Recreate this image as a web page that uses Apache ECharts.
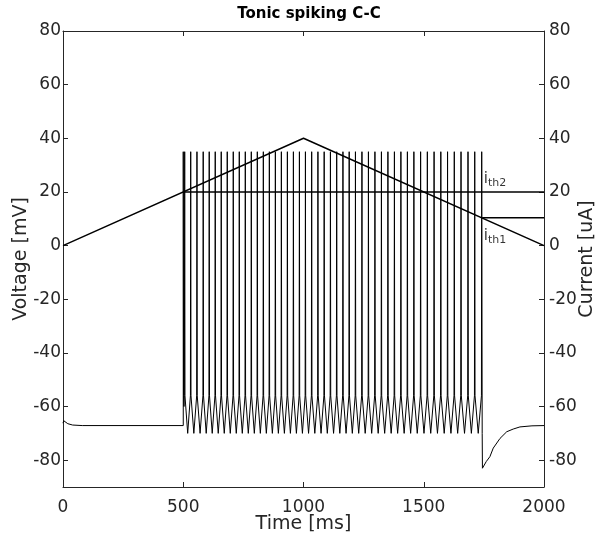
<!DOCTYPE html>
<html>
<head>
<meta charset="utf-8">
<script src="https://cdn.jsdelivr.net/npm/echarts@6/dist/echarts.min.js"></script>
<style>html,body{margin:0;padding:0;background:#fff}#c{width:599px;height:541px}</style>
</head>
<body>
<div id="c"></div>
<script>
// ---- data ----
const xTicks = [0, 500, 1000, 1500, 2000];
const yTicks = [-80, -60, -40, -20, 0, 20, 40, 60, 80];
// resting voltage before stimulus [t, mV]
const restTrace = [[0,-66.2],[3,-65.3],[8,-65.6],[20,-66.4],[40,-66.9],[80,-67.1],[500,-67.1]];
// spike times (ms)
const spikeTimes = [500,506,531,557,583,608,633,658,683,708,733,758,783,808,833,858,883,908,933,958,983,1008,
  1034,1060,1086,1112,1138,1164,1190,1216,1243,1270,1297,1324,1351,1378,1405,1432,1459,
  1487,1515,1543,1571,1599,1627,1655,1684,1712,1741];
const spikePeak = 35;
const troughV = [-60]; // first (doublet) trough; others at -70
const troughDefault = -70;
const kneeV = -56;
// after-hyperpolarisation and recovery [t, mV]
const recoveryTrace = [[1743,-70],[1744,-83],[1760,-80.5],[1775,-78.7],[1789,-75.5],[1817,-71.9],[1845,-69.4],[1872,-68.4],[1900,-67.6],[1950,-67.2],[2000,-67.1]];
// currents
const currentTriangle = [[0,0],[1000,40],[2000,0]];
const ith2Line = [[500,20],[2000,20]];
const ith1Line = [[1743,10.4],[2000,10.4]];
const ithLabels = [{t:1741, v:20, sub:'th2', pos:'above'}, {t:1741, v:10.4, sub:'th1', pos:'below'}];

// build voltage polyline
const volt = restTrace.slice();
for (let i = 0; i < spikeTimes.length; i++) {
  const t = spikeTimes[i];
  volt.push([t, spikePeak]);
  if (i < spikeTimes.length - 1) {
    const tn = spikeTimes[i+1];
    const tv = i < troughV.length ? troughV[i] : troughDefault;
    volt.push([t + 1.2, kneeV]);
    volt.push([(t + tn) / 2, tv]);
    volt.push([tn - 1.2, kneeV]);
  }
}
recoveryTrace.forEach(p => volt.push(p));

const chart = echarts.init(document.getElementById('c'), null, {renderer:'canvas'});
const axisColor = '#262626';
const font = 'DejaVu Sans';
const commonY = {
  type:'value', min:-90, max:80,
  axisLine:{show:true, onZero:false, lineStyle:{color:axisColor, width:1}},
  axisTick:{show:true, inside:true, length:5, customValues:yTicks, lineStyle:{color:axisColor}},
  axisLabel:{customValues:yTicks, color:axisColor, fontFamily:font, fontSize:17},
  splitLine:{show:false},
  nameLocation:'middle',
  nameMoveOverlap:false,
  nameTextStyle:{color:axisColor, fontFamily:font, fontSize:19}
};
chart.setOption({
  animation:false,
  backgroundColor:'#fff',
  title:{text:'Tonic spiking C-C', left:304, top:2, textAlign:'center',
    textStyle:{fontFamily:font, fontSize:15, fontWeight:'bold', color:'#000'}},
  grid:{left:63, right:55, top:31, bottom:54, containLabel:false, outerBoundsMode:'none'},
  xAxis:[
    {type:'value', min:0, max:2000, interval:500, position:'bottom',
      name:'Time [ms]', nameLocation:'middle', nameGap:28, nameMoveOverlap:false,
      nameTextStyle:{color:axisColor, fontFamily:font, fontSize:19, verticalAlign:'top'},
      axisLine:{show:true, onZero:false, lineStyle:{color:axisColor}},
      axisTick:{show:true, inside:true, length:5, lineStyle:{color:axisColor}},
      axisLabel:{color:axisColor, fontFamily:font, fontSize:17, margin:12, formatter: v => String(v)},
      splitLine:{show:false}},
    {type:'value', min:0, max:2000, interval:500, position:'top',
      axisLine:{show:true, onZero:false, lineStyle:{color:axisColor}},
      axisTick:{show:true, inside:true, length:5, lineStyle:{color:axisColor}},
      axisLabel:{show:false}, splitLine:{show:false}}
  ],
  yAxis:[
    Object.assign({}, commonY, {position:'left', name:'Voltage [mV]', nameGap:32,
      axisLabel:Object.assign({}, commonY.axisLabel, {margin:2})}),
    Object.assign({}, commonY, {position:'right', name:'Current [uA]', nameGap:34, nameRotate:90,
      axisLabel:Object.assign({}, commonY.axisLabel, {margin:5})})
  ],
  series:[
    {type:'line', xAxisIndex:0, yAxisIndex:0, data:volt, showSymbol:false, symbol:'none',
      lineStyle:{color:'#000', width:1}},
    {type:'line', xAxisIndex:0, yAxisIndex:1, data:currentTriangle, symbol:'none',
      lineStyle:{color:'#000', width:1.5}},
    {type:'line', xAxisIndex:0, yAxisIndex:1, data:ith2Line, symbol:'none',
      lineStyle:{color:'#000', width:1.5}},
    {type:'line', xAxisIndex:0, yAxisIndex:1, data:ith1Line, symbol:'none',
      lineStyle:{color:'#000', width:1.5}},
    {type:'scatter', xAxisIndex:0, yAxisIndex:1, symbolSize:0, silent:true,
      data: ithLabels.map(d => ({
        value:[d.t, d.v],
        label:{show:true, position: d.pos === 'above' ? 'insideBottomLeft' : 'insideTopLeft',
          offset: d.pos === 'above' ? [-3,2] : [-3,6],
          formatter:'{a|i}{b|' + d.sub + '}',
          rich:{
            a:{fontFamily:font, fontSize:15, color:'#000', lineHeight:17, verticalAlign:'top'},
            b:{fontFamily:font, fontSize:11, color:'#000', lineHeight:17, verticalAlign:'bottom', padding:[7,0,0,0]}
          }}
      }))}
  ]
});
</script>
</body>
</html>
